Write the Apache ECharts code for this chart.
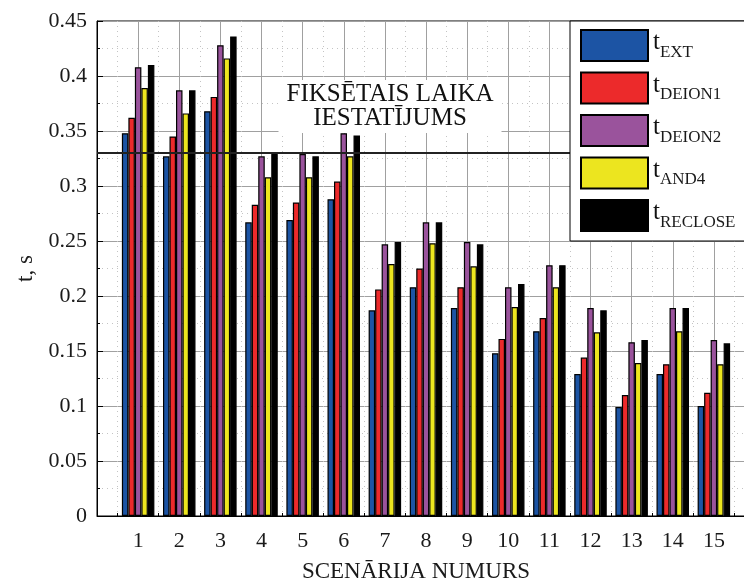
<!DOCTYPE html>
<html>
<head>
<meta charset="utf-8">
<script src="https://cdn.jsdelivr.net/npm/echarts@6/dist/echarts.min.js"></script>
<style>
  html, body { margin: 0; padding: 0; background: #fff; }
  #chart { width: 744px; height: 583px; }
</style>
</head>
<body>
<div id="chart"></div>
<script>
// Scenario numbers along the horizontal axis
const scenarios = [1, 2, 3, 4, 5, 6, 7, 8, 9, 10, 11, 12, 13, 14, 15];

// Times per scenario, seconds
const tExt     = [0.348, 0.327, 0.368, 0.267, 0.269, 0.288, 0.187, 0.208, 0.189, 0.148, 0.168, 0.129, 0.099, 0.129, 0.100];
const tDeion1  = [0.362, 0.345, 0.381, 0.283, 0.285, 0.304, 0.206, 0.225, 0.208, 0.161, 0.180, 0.144, 0.110, 0.138, 0.112];
const tDeion2  = [0.408, 0.387, 0.428, 0.327, 0.329, 0.348, 0.247, 0.267, 0.249, 0.208, 0.228, 0.189, 0.158, 0.189, 0.160];
const tAnd4    = [0.389, 0.366, 0.416, 0.308, 0.308, 0.327, 0.229, 0.248, 0.227, 0.190, 0.208, 0.167, 0.139, 0.168, 0.138];
const tReclose = [0.410, 0.387, 0.436, 0.329, 0.327, 0.346, 0.249, 0.267, 0.247, 0.211, 0.228, 0.187, 0.160, 0.189, 0.157];

// Fixed time setting
const fixedSetting = 0.33;

// Legend subscripts
const seriesNames = ['EXT', 'DEION1', 'DEION2', 'AND4', 'RECLOSE'];
const seriesColors = ['#1c54a4', '#ec2a2b', '#9a539c', '#ece51f', '#000000'];
const seriesValues = [tExt, tDeion1, tDeion2, tAnd4, tReclose];

const serif = '"Liberation Serif", "DejaVu Serif", serif';

const chart = echarts.init(document.getElementById('chart'), null, { renderer: 'canvas' });

const series = seriesNames.map((name, i) => ({
  name: name,
  type: 'bar',
  barWidth: 6.5,
  barGap: '0%',
  itemStyle: { color: seriesColors[i], borderColor: '#000', borderWidth: 1.2 },
  data: scenarios.map((s, k) => [s, seriesValues[i][k]]),
  z: 3
}));

// Fixed setting reference line
series[0].markLine = {
  silent: true,
  symbol: ['none', 'none'],
  label: { show: false },
  lineStyle: { color: '#222', width: 2, type: 'solid' },
  data: [{ yAxis: fixedSetting }],
  z: 5
};

chart.setOption({
  animation: false,
  backgroundColor: '#fff',
  grid: {
    left: 97, top: 21, width: 658, height: 495,
    outerBoundsMode: 'none',
    containLabel: false,
    show: true, borderColor: '#000', borderWidth: 1, backgroundColor: 'transparent'
  },
  xAxis: {
    type: 'value',
    min: 0, max: 16, interval: 1,
    name: 'SCENĀRIJA NUMURS',
    nameLocation: 'middle',
    nameGap: 44,
    nameTextStyle: { fontFamily: serif, fontSize: 23, color: '#1a1a1a', padding: [0, 20, 0, 0] },
    axisLine: { show: true, onZero: false, lineStyle: { color: '#000', width: 1 } },
    axisTick: { show: true, inside: true, length: 5, lineStyle: { color: '#000' } },
    minorTick: { show: true, splitNumber: 2, length: 3, lineStyle: { color: '#000' } },
    axisLabel: {
      fontFamily: serif, fontSize: 22, color: '#1a1a1a', margin: 14,
      formatter: v => scenarios.indexOf(v) >= 0 ? String(v) : ''
    },
    splitLine: { show: true, lineStyle: { color: '#a0a0a0', width: 1 } },
    minorSplitLine: { show: true, lineStyle: { color: '#c4c4c4', width: 1, type: [1, 4] } }
  },
  yAxis: {
    type: 'value',
    min: 0, max: 0.45, interval: 0.05,
    name: 't, s',
    nameLocation: 'middle',
    nameGap: 58,
    nameRotate: 90,
    nameTextStyle: { fontFamily: serif, fontSize: 23, color: '#1a1a1a' },
    axisLine: { show: true, lineStyle: { color: '#000', width: 1 } },
    axisTick: { show: true, inside: true, length: 6, lineStyle: { color: '#000' } },
    minorTick: { show: true, splitNumber: 2, length: 3, lineStyle: { color: '#000' } },
    axisLabel: { fontFamily: serif, fontSize: 22, color: '#1a1a1a', margin: 10 },
    splitLine: { show: true, lineStyle: { color: '#a0a0a0', width: 1 } },
    minorSplitLine: { show: true, lineStyle: { color: '#c4c4c4', width: 1, type: [1, 4] } }
  },
  legend: {
    orient: 'vertical',
    left: 570, top: 21,
    padding: [8, 40, 9, 10],
    itemWidth: 67, itemHeight: 31, itemGap: 9.5,
    backgroundColor: '#fff',
    borderColor: '#000', borderWidth: 1,
    icon: 'rect',
    selectedMode: false,
    z: 10,
    formatter: name => '{t|t}{s|' + name + '}',
    textStyle: {
      fontFamily: serif, color: '#1a1a1a',
      rich: {
        t: { fontFamily: serif, fontSize: 25, color: '#111', lineHeight: 31, verticalAlign: 'top' },
        s: { fontFamily: serif, fontSize: 17, color: '#1a1a1a', lineHeight: 31, verticalAlign: 'bottom' }
      }
    },
    data: seriesNames
  },
  graphic: [{
    type: 'text',
    x: 390, y: 80,
    z: 4,
    style: {
      text: 'FIKSĒTAIS LAIKA\nIESTATĪJUMS',
      fontFamily: serif, fontSize: 25, fill: '#111',
      align: 'center', verticalAlign: 'top',
      lineHeight: 24,
      backgroundColor: '#fff',
      padding: [2, 8, 3, 8]
    }
  }],
  series: series
});
</script>
</body>
</html>
